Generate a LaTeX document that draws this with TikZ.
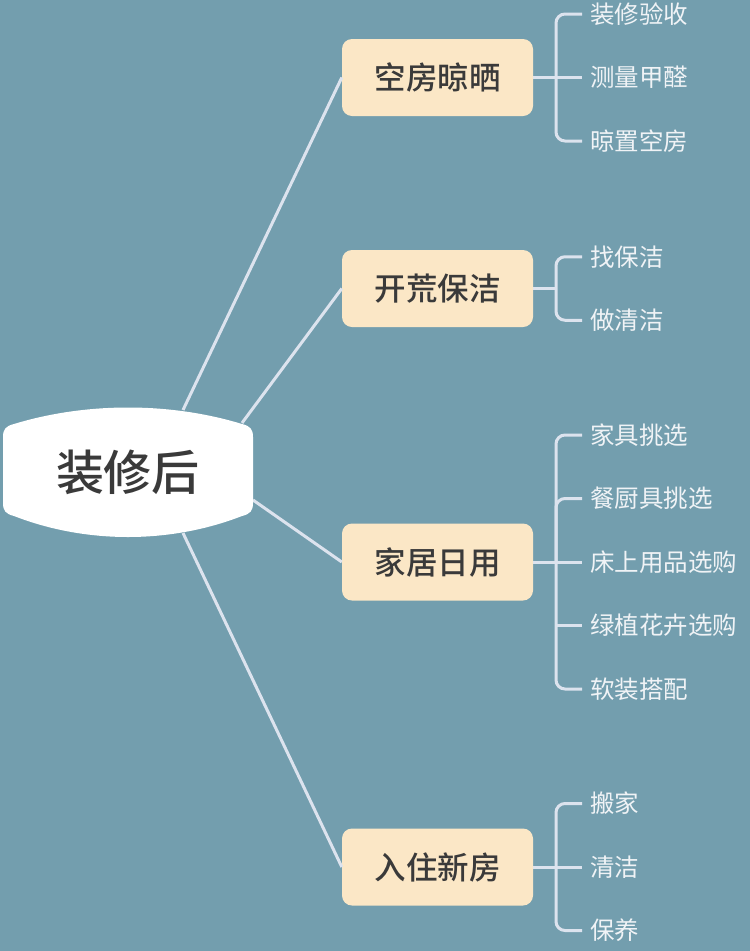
\documentclass[tikz,border=0pt]{standalone}
\usepackage{fontspec}
\setmainfont{Noto Sans CJK SC}
\newfontfamily\cjkmed{Noto Sans CJK SC Medium}
\definecolor{bgc}{HTML}{739EAE}
\definecolor{boxc}{HTML}{FBE7C6}
\definecolor{linec}{HTML}{DCE3EE}
\definecolor{darkt}{HTML}{3A3A3A}
\definecolor{leaft}{HTML}{F0F3F6}
\tikzset{
  branch/.style={rounded corners=10pt, fill=boxc, minimum width=191pt, minimum height=77pt,
    inner sep=0pt, text=darkt, font=\fontsize{31.5}{36}\selectfont\cjkmed},
  leaf/.style={anchor=west, inner sep=0pt, text=leaft, font=\fontsize{24.5}{28}\selectfont},
  rootnode/.style={inner sep=0pt, text=darkt, font=\fontsize{48}{54}\selectfont\cjkmed},
  conn/.style={draw=linec, line width=3pt},
  brace/.style={draw=linec, line width=3pt, rounded corners=9pt},
}
\begin{document}
\begin{tikzpicture}[x=1pt, y=-1pt]
\useasboundingbox[fill=bgc] (0,0) rectangle (750,951);

% branch nodes
\node[branch] (b1) at (437.5,77.5) {空房晾晒};
\node[branch] (b2) at (437.5,288.5) {开荒保洁};
\node[branch] (b3) at (437.5,562) {家居日用};
\node[branch] (b4) at (437.5,867) {入住新房};

% leaves
\node[leaf] (c11) at (590,14) {装修验收};
\node[leaf] (c12) at (590,77.5) {测量甲醛};
\node[leaf] (c13) at (590,141) {晾置空房};
\node[leaf] (c21) at (590,256.75) {找保洁};
\node[leaf] (c22) at (590,320.25) {做清洁};
\node[leaf] (c31) at (590,435) {家具挑选};
\node[leaf] (c32) at (590,498.5) {餐厨具挑选};
\node[leaf] (c33) at (590,562) {床上用品选购};
\node[leaf] (c34) at (590,625.5) {绿植花卉选购};
\node[leaf] (c35) at (590,689) {软装搭配};
\node[leaf] (c41) at (590,803.5) {搬家};
\node[leaf] (c42) at (590,867) {清洁};
\node[leaf] (c43) at (590,930.5) {保养};

% bracket junctions
\coordinate (k1) at (556,77.5);
\coordinate (k2) at (556,288.5);
\coordinate (k3) at (556,562);
\coordinate (k4) at (556,867);

% brackets
\draw[conn] (b1.east) -- ([xshift=-8pt]c12.west);
\draw[brace] ([xshift=-8pt]c11.west) -| (k1) |- ([xshift=-8pt]c13.west);

\draw[conn] (b2.east) -- (k2);
\draw[brace] ([xshift=-8pt]c21.west) -| (k2) |- ([xshift=-8pt]c22.west);

\draw[conn] (b3.east) -- ([xshift=-8pt]c33.west);
\draw[brace] ([xshift=-8pt]c31.west) -| (k3) |- ([xshift=-8pt]c35.west);
\draw[brace] ([xshift=-8pt]c32.west) -- (k3 |- c32.west) -- (k3 |- c33.west);
\draw[conn] (k3 |- c34.west) -- ([xshift=-8pt]c34.west);

\draw[conn] (b4.east) -- ([xshift=-8pt]c42.west);
\draw[brace] ([xshift=-8pt]c41.west) -| (k4) |- ([xshift=-8pt]c43.west);

% root attachment points
\coordinate (r1) at (183,410);
\coordinate (r2) at (242,423);
\coordinate (r3) at (253,500);
\coordinate (r4) at (183,533);

\draw[conn] (r1) -- (b1.west);
\draw[conn] (r2) -- (b2.west);
\draw[conn] (r3) -- (b3.west);
\draw[conn] (r4) -- (b4.west);

% root shape
\fill[white] (3,437) .. controls (3,429) and (6,426) .. (14,424)
  .. controls (86,402) and (170,402) .. (242,424)
  .. controls (250,426) and (253,429) .. (253,437)
  -- (253,503)
  .. controls (253,511) and (250,514) .. (242,516)
  .. controls (170,544) and (86,544) .. (14,516)
  .. controls (6,514) and (3,511) .. (3,503) -- cycle;
\node[rootnode] (root) at (128,472) {装修后};
\end{tikzpicture}
\end{document}
